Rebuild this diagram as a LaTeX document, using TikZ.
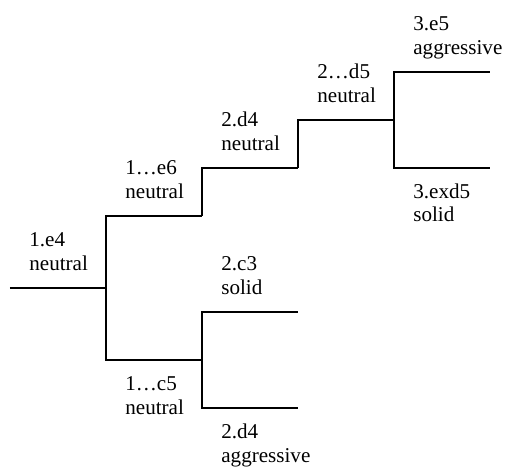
\documentclass[tikz,border=0pt]{standalone}
\usepackage{fontspec}
\setmainfont{Liberation Serif}
\usetikzlibrary{positioning,calc}

\begin{document}
\begin{tikzpicture}[x=1cm,y=1cm,
	edge/.style={line width=1.1pt},
	movetxt/.style={anchor=base west,inner sep=0pt,align=left,font=\fontsize{12}{13.6}\selectfont,xshift=0.38cm},
	movetop/.style={movetxt,yshift=0.35cm},
	movebot/.style={movetxt,yshift=-1.08cm}]
	\useasboundingbox (0,0) rectangle (10.1,9.32);
	\def\W{1.92}
	\def\D{0.96}
	
	% branch ends
	\coordinate (root) at (0.2,3.56);
	\coordinate (k1) at ($(root)+(\W,0)$);
	\coordinate (k2) at ($(k1)+(\W,1.5*\D)$);
	\coordinate (k3) at ($(k2)+(\W,\D)$);
	\coordinate (k4) at ($(k3)+(\W,\D)$);
	\coordinate (k5) at ($(k4)+(\W,\D)$);
	\coordinate (k6) at ($(k4)+(\W,-\D)$);
	\coordinate (k7) at ($(k1)+(\W,-1.5*\D)$);
	\coordinate (k8) at ($(k7)+(\W,\D)$);
	\coordinate (k9) at ($(k7)+(\W,-\D)$);
	
	% lines
	\draw[edge] (root) -- (k1);
	\draw[edge] (k1) |- (k2);
	\draw[edge] (k2) |- (k3);
	\draw[edge] (k3) |- (k4);
	\draw[edge] (k4) |- (k5);
	\draw[edge] (k4) |- (k6);
	\draw[edge] (k1) |- (k7);
	\draw[edge] (k7) |- (k8);
	\draw[edge] (k7) |- (k9);
	
	% moves
	\node[movetop] (e4) at (root) {1.e4\\neutral};
	\node[movetop] (e6) at (k1 |- k2) {1…e6\\neutral};
	\node[movetop] (d4) at (k2 |- k3) {2.d4\\neutral};
	\node[movetop] (d5) at (k3 |- k4) {2…d5\\neutral};
	\node[movetop] (e5) at (k4 |- k5) {3.e5\\aggressive};
	\node[movebot] (exd5) at (k4 |- k6) {3.exd5\\solid};
	\node[movebot] (c5) at (k1 |- k7) {1…c5\\neutral};
	\node[movetop] (c3) at (k7 |- k8) {2.c3\\solid};
	\node[movebot] (d4b) at (k7 |- k9) {2.d4\\aggressive};
\end{tikzpicture}
\end{document}
